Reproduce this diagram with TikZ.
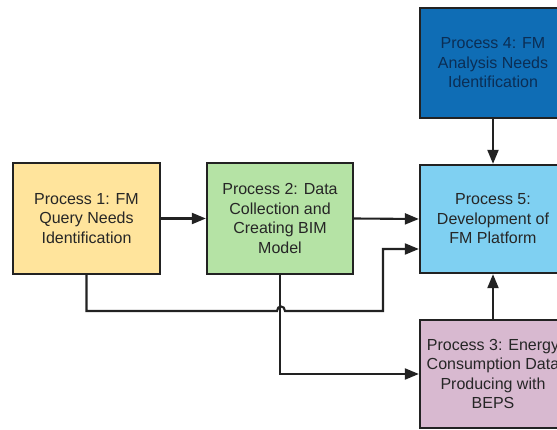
\documentclass[tikz,border=0pt]{standalone}
\usepackage{fontspec}
\setmainfont{Liberation Sans}
\usetikzlibrary{arrows.meta}
\definecolor{edge}{HTML}{222222}
\definecolor{ink}{HTML}{262626}
\definecolor{darkink}{HTML}{0B2E55}
\definecolor{yellowfill}{HTML}{FFE49C}
\definecolor{greenfill}{HTML}{B5E3A5}
\definecolor{navyfill}{HTML}{0F6DB5}
\definecolor{skyfill}{HTML}{7FD0F2}
\definecolor{mauvefill}{HTML}{D8B9D0}
\begin{document}
\begin{tikzpicture}[x=1pt,y=-1pt,
  box/.style={draw=edge,line width=2.3pt,minimum width=146pt,minimum height=110pt,
    inner sep=0pt,align=center,font=\fontsize{16}{19.5}\selectfont,text=ink},
  link/.style={draw=edge,line width=2.1pt,-{Triangle[length=14pt,width=11pt]}},
  wire/.style={draw=edge,line width=2.1pt}]
\useasboundingbox (0,0) rectangle (557,430);
\clip (0,0) rectangle (557,430);
\fill[white] (0,0) rectangle (557,430);

% process boxes
\node[box,fill=yellowfill,minimum width=147pt,minimum height=111pt] (p1) at (86.5,218.5)
  {Process 1: FM\\Query Needs\\Identification};
\node[box,fill=greenfill,minimum height=111pt] (p2) at (280,218.5)
  {Process 2: Data\\Collection and\\Creating BIM\\Model};
\node[box,fill=navyfill,text=darkink] (p4) at (493,63)
  {Process 4: FM\\Analysis Needs\\Identification};
\node[box,fill=skyfill,minimum height=108pt] (p5) at (493,219)
  {Process 5:\\Development of\\FM Platform};
\node[box,fill=mauvefill,minimum height=108pt] (p3) at (493,374)
  {Process 3: Energy\\Consumption Data\\Producing with\\BEPS};

% connectors
\draw[link] (p1.east) -- (p2.west);
\draw[link] (p2.east) -- (p5.west);
\draw[link] (p4.south) -- (p5.north);
\draw[link] (p3.north) -- (p5.south);
\draw[link] (p2.south) |- (p3.west);
\draw[link] (p1.south) |- (277,311)
  .. controls (277,305) and (285,305) .. (285,311)
  -- (383,311) |- ([yshift=-30pt]p5.west);
\end{tikzpicture}
\end{document}
